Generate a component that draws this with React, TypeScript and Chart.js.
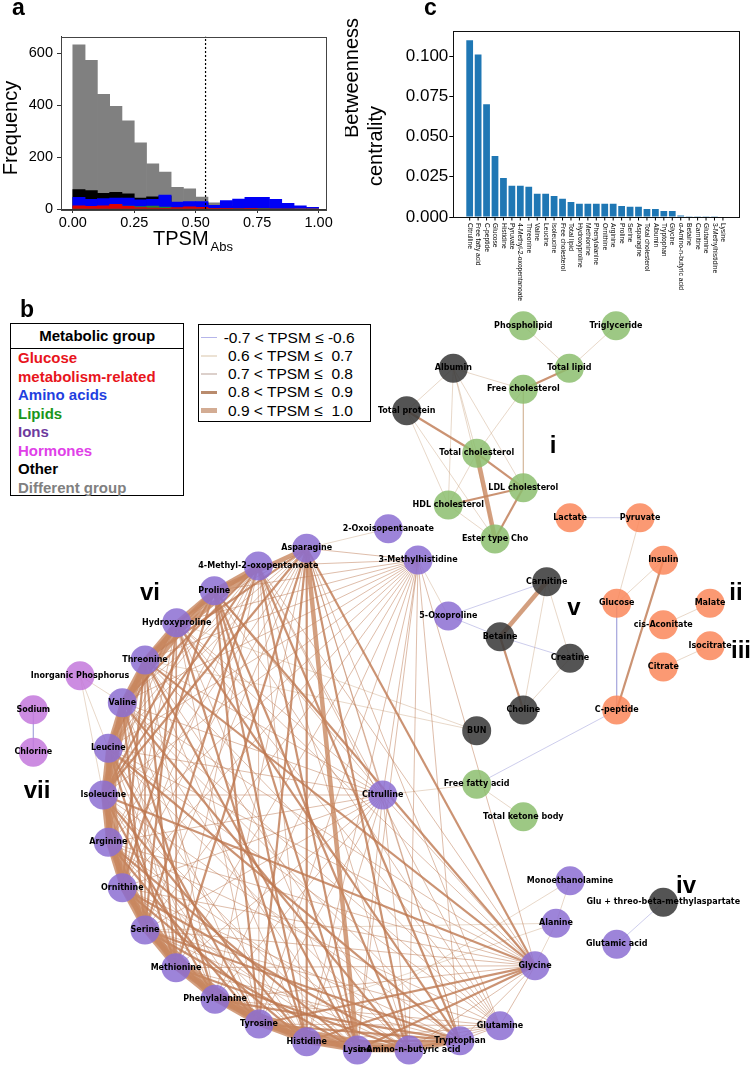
import React, { useEffect, useRef } from "react";
import { Chart, registerables } from "chart.js";

Chart.register(...registerables);

const SANS = "'Liberation Sans', Arial, Helvetica, sans-serif";
const DEJAVU = "'DejaVu Sans', sans-serif";

/* ---------------- panel a : histogram ---------------- */
const histBinCenters = [0.025, 0.075, 0.125, 0.175, 0.225, 0.275, 0.325, 0.375, 0.425, 0.475, 0.525, 0.575, 0.625, 0.675, 0.725, 0.775, 0.825, 0.875, 0.925, 0.975];
const histGray = [632, 572, 441, 395, 339, 255, 174, 142, 83, 78, 46, 24, 8, 6, 4, 2, 1, 0, 0, 0];
const histBlack = [75, 71, 60, 64, 58, 42, 47, 50, 22, 24, 24, 10, 10, 8, 6, 4, 2, 1, 0, 0];
const histBlue = [45, 37, 40, 42, 42, 35, 37, 54, 27, 29, 29, 14, 32, 38, 45, 45, 37, 22, 12, 6];
const histGreen = [4, 6, 9, 14, 11, 9, 11, 7, 4, 5, 3, 1, 2, 2, 1, 1, 0, 0, 0, 0];
const histRed = [12, 10, 12, 18, 10, 5, 4, 3, 5, 8, 6, 3, 3, 2, 1, 0, 0, 0, 0, 0];
const histThreshold = 0.54;
const histXTicks = [0, 0.25, 0.5, 0.75, 1.0];
const histXTickLabels = ["0.00", "0.25", "0.50", "0.75", "1.00"];
const histYTicks = [0, 200, 400, 600];
const histXMin = -0.048;
const histXMax = 1.03;
const histYMax = 664;

/* ---------------- panel c : betweenness ---------------- */
const bcLabels = ["Citrulline", "Free fatty acid", "C-peptide", "Glucose", "Histidine", "Pyruvate", "4-Methyl-2-oxopentanoate", "Threonine", "Valine", "Leucine", "Isoleucine", "Free cholesterol", "Total lipid", "Hydroxyproline", "Methionine", "Phenylalanine", "Ornithine", "Arginine", "Proline", "Serine", "Asparagine", "Total cholesterol", "Albumin", "Tryptophan", "Glycine", "α-Amino-n-butyric acid", "Betaine", "Carnitine", "Glutamine", "3-Methylhistidine", "Lysine"];
const bcValues = [0.110, 0.101, 0.0702, 0.0379, 0.0242, 0.0194, 0.0194, 0.0188, 0.0144, 0.0144, 0.0131, 0.0113, 0.0094, 0.0083, 0.0083, 0.0083, 0.0083, 0.0083, 0.0069, 0.0063, 0.0063, 0.0050, 0.0050, 0.0037, 0.0037, 0.0010, 0.0004, 0.0004, 0.0002, 0.0001, 0.0];
const bcYTicks = [0, 0.025, 0.05, 0.075, 0.1];
const bcYTickLabels = ["0.000", "0.025", "0.050", "0.075", "0.100"];
const bcXMin = -1.94;
const bcXMax = 31.94;
const bcYMax = 0.1155;

/* ---------------- panel b : network ---------------- */
const nodeKeys = [
  "Pho", "Tri", "TL", "Alb", "FC", "TP", "TC", "LDL", "HDL", "ETC",
  "Lac", "Pyr", "Ins", "Glc", "Mal", "cisA", "Iso", "Cit", "CP",
  "Carn", "Bet", "Cre", "Cho", "BUN", "GTM",
  "FFA", "TKB",
  "IP", "Na", "Cl",
  "Oxo5", "MH3", "Oxi2", "Asn", "MOP", "Pro", "Hyp", "Thr", "Val", "Leu",
  "Ile", "Arg", "Orn", "Ser", "Met", "Phe", "Tyr", "His", "Lys", "Aab",
  "Trp", "Gln", "Gly", "Ala", "Glu", "MEA", "Citr",
];
const nodeLabels = [
  "Phospholipid", "Triglyceride", "Total lipid", "Albumin", "Free cholesterol", "Total protein", "Total cholesterol", "LDL cholesterol", "HDL cholesterol", "Ester type Cho",
  "Lactate", "Pyruvate", "Insulin", "Glucose", "Malate", "cis-Aconitate", "Isocitrate", "Citrate", "C-peptide",
  "Carnitine", "Betaine", "Creatine", "Choline", "BUN", "Glu + threo-beta-methylaspartate",
  "Free fatty acid", "Total ketone body",
  "Inorganic Phosphorus", "Sodium", "Chlorine",
  "5-Oxoproline", "3-Methylhistidine", "2-Oxoisopentanoate", "Asparagine", "4-Methyl-2-oxopentanoate", "Proline", "Hydroxyproline", "Threonine", "Valine", "Leucine",
  "Isoleucine", "Arginine", "Ornithine", "Serine", "Methionine", "Phenylalanine", "Tyrosine", "Histidine", "Lysine", "α-Amino-n-butyric acid",
  "Tryptophan", "Glutamine", "Glycine", "Alanine", "Glutamic acid", "Monoethanolamine", "Citrulline",
];
const nodeX = [
  523.3, 616, 569.3, 453.3, 523.3, 406.7, 476.7, 523.3, 448.3, 495,
  570, 640, 663.3, 616.7, 710, 663.3, 710, 663.3, 616.7,
  546.7, 500, 570, 523.3, 476.7, 663.3,
  476.7, 523.3,
  80, 33.3, 33.3,
  448.3, 418, 388.3, 306.7, 258.3, 214.3, 176.7, 145, 122.3, 108.3,
  103.3, 108.3, 122.3, 145, 176, 215, 259, 306.7, 357.3, 409,
  460, 500, 535, 556, 616.7, 570, 382.7,
];
const nodeY = [
  325.7, 325.7, 368.3, 368.3, 389.3, 410.7, 453.3, 487.7, 505, 539,
  517.7, 517.7, 560.3, 603.3, 603.3, 624.7, 645.7, 667, 710,
  581.7, 636.7, 658.3, 710, 730.7, 902.3,
  784.3, 816.7,
  675.7, 709.7, 752.3,
  616, 560, 528.7, 548.3, 566, 590.7, 622.7, 660, 702.7, 748.3,
  795, 842.3, 887.7, 930, 967.7, 999.3, 1024, 1041.7, 1050, 1050,
  1040.7, 1025.7, 965.7, 923.3, 944.3, 880.7, 795,
];
const nodeGroup = [
  "L", "L", "L", "O", "L", "O", "L", "L", "L", "L",
  "G", "G", "G", "G", "G", "G", "G", "G", "G",
  "O", "O", "O", "O", "O", "O",
  "L", "L",
  "I", "I", "I",
  "A", "A", "A", "A", "A", "A", "A", "A", "A", "A",
  "A", "A", "A", "A", "A", "A", "A", "A", "A", "A",
  "A", "A", "A", "A", "A", "A", "A",
];

// edges by TPSM class
const edgesNeg = ["Lac-Pyr", "Glc-CP", "CP-FFA", "Oxo5-Carn", "Oxo5-Bet", "Na-Cl", "Glu-GTM", "Bet-Cre"];
const edges06 = [
  "Pho-TL", "Tri-TL", "Alb-FC", "Alb-TP", "Alb-TC", "Alb-HDL", "Alb-LDL", "Alb-ETC", "FC-TC", "FC-LDL",
  "TP-HDL", "TP-ETC", "HDL-TC", "HDL-ETC", "Carn-Cre", "Carn-Cho", "Cre-Cho", "Pyr-Glc", "Glc-Ins", "cisA-Mal",
  "Cit-Iso", "FFA-TKB", "FFA-Citr", "BUN-Hyp", "BUN-Thr", "IP-Val", "IP-Leu", "IP-Ile", "Oxi2-Asn", "MEA-His",
  "MEA-Ala", "Ala-Gly", "Ala-Tyr", "Oxo5-MH3", "Ala-Ser",
];
const edges07 = [
  "MH3-Pro", "MH3-Hyp", "MH3-Thr", "MH3-Val", "MH3-Leu", "MH3-Ile", "MH3-Arg", "MH3-Orn", "MH3-Ser", "MH3-Met",
  "MH3-Phe", "MH3-Tyr", "MH3-His", "MH3-Lys", "MH3-Aab", "MH3-Trp", "MH3-Gly", "MH3-Asn", "MH3-MOP",
  "Citr-Asn", "Citr-MOP", "Citr-Pro", "Citr-Hyp", "Citr-Thr", "Citr-Val", "Citr-Leu", "Citr-Ile", "Citr-Arg", "Citr-Orn",
  "Citr-Ser", "Citr-Met", "Citr-Phe", "Citr-Tyr", "Citr-His", "Citr-Lys", "Citr-Aab", "Citr-Trp", "Citr-Gly", "Citr-MH3",
  "Gln-Asn", "Gln-MOP", "Gln-Pro", "Gln-Hyp", "Gln-Thr", "Gln-Val", "Gln-Leu", "Gln-Arg", "Gln-Ser", "Gln-Phe",
  "Gln-Tyr", "Gln-His", "Gln-Lys", "Gln-Aab", "Gln-Trp", "Gln-Gly",
  "Gly-Hyp", "Gly-Val", "Gly-Leu", "Gly-Arg", "Gly-Orn", "Gly-Ser", "Gly-Met", "Gly-Phe", "Gly-MOP", "Gly-Aab", "Gly-Trp",
  "Asn-Leu", "Asn-Arg", "Asn-Orn", "Asn-Ser", "Asn-Phe", "Asn-Trp", "Asn-Val", "Asn-Hyp",
  "MOP-Leu", "MOP-Arg", "MOP-Orn", "MOP-Met", "MOP-Tyr", "MOP-His", "MOP-Aab",
  "Hyp-Ile", "Hyp-Orn", "Hyp-Met", "Hyp-Tyr", "Hyp-Lys",
  "Thr-Arg", "Thr-Ser", "Thr-Phe", "Thr-His", "Thr-Aab",
  "Val-Met", "Val-Tyr", "Val-Lys", "Val-Trp",
  "Leu-Phe", "Leu-His", "Leu-Aab", "Ile-Tyr", "Ile-Lys", "Ile-Trp",
  "Arg-His", "Arg-Aab", "Orn-Lys", "Orn-Trp", "Ser-Aab", "Met-Trp",
];
const edges08 = [
  "TL-FC", "TP-TC", "TC-LDL", "LDL-ETC", "HDL-LDL", "Ins-CP", "Bet-Cho",
  "Asn-Gly", "Asn-Tyr", "Asn-His", "Asn-Aab", "Asn-Thr", "Asn-Ile", "Asn-Met",
  "MOP-Val", "MOP-Ile", "MOP-Ser", "MOP-Lys", "MOP-Trp", "MOP-Hyp",
  "Pro-Ile", "Pro-Orn", "Pro-Tyr", "Pro-His", "Pro-Lys", "Pro-Aab", "Pro-Gly",
  "Hyp-Leu", "Hyp-Ser", "Hyp-His", "Hyp-Trp",
  "Thr-Orn", "Thr-Met", "Thr-Lys", "Thr-Gly",
  "Val-Ser", "Val-Phe", "Val-Aab",
  "Leu-Met", "Leu-Tyr", "Leu-Trp",
  "Ile-Phe", "Ile-His", "Ile-Gly",
  "Arg-Tyr", "Arg-Lys", "Orn-His", "Orn-Aab",
  "Ser-Lys", "Ser-Trp", "Met-Aab", "Phe-Trp",
  "Tyr-Trp", "Tyr-Gly", "His-Gly", "His-Trp", "Lys-Gly",
];
const edges09 = [
  "TC-ETC", "Carn-Bet",
  "Asn-Lys", "Asn-Pro", "MOP-Pro", "MOP-Thr", "Pro-Hyp", "Pro-Thr", "Hyp-Thr", "Hyp-Val",
  "Thr-Val", "Thr-Leu", "Val-Leu", "Val-Ile", "Leu-Ile", "Leu-Arg", "Ile-Arg", "Ile-Orn", "Arg-Orn", "Arg-Ser",
  "Orn-Ser", "Orn-Met", "Ser-Met", "Ser-Phe", "Met-Phe", "Met-Tyr", "Phe-Tyr", "Phe-His", "Tyr-His", "Tyr-Lys",
  "His-Lys", "His-Aab", "Lys-Aab", "Lys-Trp", "Aab-Trp", "Val-Arg", "Leu-Orn", "Ile-Ser", "Arg-Met", "Orn-Phe",
  "Ser-Tyr", "Met-His", "Phe-Lys", "Tyr-Aab", "Pro-Val", "Thr-Ile",
];

const clusterTags = ["i", "ii", "iii", "iv", "v", "vi", "vii"];
const clusterTagX = [553, 736, 741, 686, 574, 150, 37];
const clusterTagY = [453, 600, 658, 892.7, 615, 600, 798];

/* ---------------- styles ---------------- */
const groupColors: Record<string, string> = {
  L: "rgba(140,190,110,0.85)",
  O: "rgba(60,60,60,0.88)",
  G: "rgba(250,135,90,0.85)",
  A: "rgba(140,110,210,0.85)",
  I: "rgba(195,120,220,0.85)",
};
const edgeClassColors = ["rgba(150,150,215,0.6)", "rgba(200,160,125,0.6)", "rgba(185,115,75,0.6)", "rgba(190,120,80,0.8)", "rgba(200,135,95,0.8)"];
const edgeClassWidths = [0.8, 0.7, 0.8, 2.2, 4.5];

const framePlugin = (color: string) => ({
  id: "frame",
  afterDraw(chart: any) {
    const { ctx, chartArea: a } = chart;
    ctx.save();
    ctx.strokeStyle = color;
    ctx.lineWidth = 1;
    ctx.strokeRect(Math.round(a.left) + 0.5, Math.round(a.top) + 0.5, Math.round(a.right - a.left), Math.round(a.bottom - a.top));
    ctx.restore();
  },
});

function makeHistogram(canvas: HTMLCanvasElement) {
  const xy = (ys: number[]) => histBinCenters.map((x, i) => ({ x, y: ys[i] }));
  const bar = (ys: number[], color: string) => ({
    type: "bar" as const,
    data: xy(ys),
    backgroundColor: color,
    borderWidth: 0,
    grouped: false,
    barPercentage: 1,
    categoryPercentage: 1,
    order: 1,
  });
  const textPlugin = {
    id: "histText",
    afterDraw(chart: any) {
      const { ctx } = chart;
      ctx.save();
      ctx.fillStyle = "#000";
      ctx.font = `bold 23px ${SANS}`;
      ctx.textAlign = "left";
      ctx.textBaseline = "alphabetic";
      ctx.fillText("a", 12, 15);
      ctx.font = `20px ${SANS}`;
      ctx.fillText("TPSM", 153, 245);
      ctx.font = `13px ${SANS}`;
      ctx.fillText("Abs", 210.5, 250.5);
      ctx.translate(17, 128);
      ctx.rotate(-Math.PI / 2);
      ctx.textAlign = "center";
      ctx.font = `20px ${SANS}`;
      ctx.fillText("Frequency", 0, 0);
      ctx.restore();
    },
  };
  return new Chart(canvas, {
    type: "bar",
    data: {
      datasets: [
        {
          type: "line",
          data: [{ x: histThreshold, y: 0 }, { x: histThreshold, y: histYMax }],
          borderColor: "#000",
          borderWidth: 1.2,
          borderDash: [2, 2],
          pointRadius: 0,
          order: 0,
        } as any,
        bar(histRed, "#e00000"),
        bar(histGreen, "#2e7d32"),
        bar(histBlue, "#0000f5"),
        bar(histBlack, "#000000"),
        bar(histGray, "#808080"),
      ],
    },
    options: {
      responsive: false,
      animation: false,
      devicePixelRatio: 1,
      events: [],
      layout: { padding: { left: 0, right: 19, top: 36.5, bottom: 0 }, autoPadding: false },
      plugins: { legend: { display: false }, tooltip: { enabled: false } },
      scales: {
        x: {
          type: "linear",
          min: histXMin,
          max: histXMax,
          offset: false,
          afterBuildTicks: (s: any) => { s.ticks = histXTicks.map((v) => ({ value: v })); },
          afterFit: (s: any) => { s.height = 47; },
          grid: { drawOnChartArea: false, drawTicks: true, tickLength: 4, color: "#333", offset: false },
          border: { display: true, color: "#333" },
          ticks: { font: { size: 14.5, family: SANS }, color: "#000", padding: 1, maxRotation: 0, callback: (_v: any, i: number) => histXTickLabels[i] },
        },
        y: {
          type: "linear",
          min: 0,
          max: histYMax,
          afterBuildTicks: (s: any) => { s.ticks = histYTicks.map((v) => ({ value: v })); },
          afterFit: (s: any) => { s.width = 61; },
          grid: { drawOnChartArea: false, drawTicks: true, tickLength: 4, color: "#333" },
          border: { display: true, color: "#333" },
          ticks: { font: { size: 14.5, family: SANS }, color: "#000", padding: 4 },
        },
      },
    } as any,
    plugins: [framePlugin("#444"), textPlugin],
  });
}

function makeBetweenness(canvas: HTMLCanvasElement) {
  const labelPlugin = {
    id: "bcLabels",
    afterDraw(chart: any) {
      const { ctx, chartArea } = chart;
      const xs = chart.scales.x;
      ctx.save();
      ctx.fillStyle = "#000";
      ctx.strokeStyle = "#000";
      ctx.lineWidth = 1;
      bcLabels.forEach((lab, i) => {
        const px = xs.getPixelForValue(i);
        ctx.beginPath();
        ctx.moveTo(px, chartArea.bottom);
        ctx.lineTo(px, chartArea.bottom + 3.5);
        ctx.stroke();
        ctx.save();
        ctx.translate(px, chartArea.bottom + 6);
        ctx.rotate(Math.PI / 2);
        ctx.font = `6.7px ${SANS}`;
        ctx.textAlign = "left";
        ctx.textBaseline = "middle";
        ctx.fillText(lab, 0, 0);
        ctx.restore();
      });
      ctx.font = `bold 23px ${SANS}`;
      ctx.textAlign = "left";
      ctx.textBaseline = "alphabetic";
      ctx.fillText("c", 79, 15);
      ctx.font = `20px ${SANS}`;
      ctx.textAlign = "center";
      ctx.save();
      ctx.translate(13, 78);
      ctx.rotate(-Math.PI / 2);
      ctx.fillText("Betweenness", 0, 0);
      ctx.restore();
      ctx.save();
      ctx.translate(37, 146);
      ctx.rotate(-Math.PI / 2);
      ctx.fillText("centrality", 0, 0);
      ctx.restore();
      ctx.restore();
    },
  };
  return new Chart(canvas, {
    type: "bar",
    data: {
      datasets: [
        {
          data: bcValues.map((v, i) => ({ x: i, y: v })),
          backgroundColor: "#1f77b4",
          borderWidth: 0,
          barPercentage: 0.8,
          categoryPercentage: 1,
        },
      ],
    },
    options: {
      responsive: false,
      animation: false,
      devicePixelRatio: 1,
      events: [],
      layout: { padding: { left: 0, right: 10.7, top: 31.3, bottom: 0 }, autoPadding: false },
      plugins: { legend: { display: false }, tooltip: { enabled: false } },
      scales: {
        x: {
          type: "linear",
          min: bcXMin,
          max: bcXMax,
          offset: false,
          afterBuildTicks: (s: any) => { s.ticks = bcLabels.map((_l, i) => ({ value: i })); },
          afterFit: (s: any) => { s.height = 93; },
          grid: { display: false },
          border: { display: true, color: "#000" },
          ticks: { display: false },
        },
        y: {
          type: "linear",
          min: 0,
          max: bcYMax,
          afterBuildTicks: (s: any) => { s.ticks = bcYTicks.map((v) => ({ value: v })); },
          afterFit: (s: any) => { s.width = 108.3; },
          grid: { drawOnChartArea: false, drawTicks: true, tickLength: 4, color: "#000" },
          border: { display: true, color: "#000" },
          ticks: { font: { size: 17, family: SANS }, color: "#000", padding: 1, callback: (_v: any, i: number) => bcYTickLabels[i] },
        },
      },
    } as any,
    plugins: [framePlugin("#111"), labelPlugin],
  });
}

function makeNetwork(canvas: HTMLCanvasElement) {
  const idx: Record<string, number> = {};
  nodeKeys.forEach((k, i) => { idx[k] = i; });
  const edgeSets = [edges09, edges08, edges07, edges06, edgesNeg];
  const classOf = [4, 3, 2, 1, 0];
  const edgeDatasets: any[] = [];
  edgeSets.forEach((set, si) => {
    const c = classOf[si];
    set.forEach((e) => {
      const [a, b] = e.split("-");
      const ia = idx[a];
      const ib = idx[b];
      if (ia === undefined || ib === undefined) return;
      edgeDatasets.push({
        type: "line",
        data: [{ x: nodeX[ia], y: nodeY[ia] }, { x: nodeX[ib], y: nodeY[ib] }],
        borderColor: edgeClassColors[c],
        borderWidth: edgeClassWidths[c],
        pointRadius: 0,
        tension: 0,
        fill: false,
        order: 1,
        clip: false,
      });
    });
  });
  const nodeDataset = {
    type: "scatter",
    data: nodeKeys.map((_k, i) => ({ x: nodeX[i], y: nodeY[i] })),
    pointRadius: 14.5,
    pointBackgroundColor: nodeGroup.map((g) => groupColors[g]),
    pointBorderWidth: 0,
    borderWidth: 0,
    order: 0,
    clip: false,
  };
  const labelPlugin = {
    id: "netLabels",
    afterDatasetsDraw(chart: any) {
      const { ctx } = chart;
      const xs = chart.scales.x;
      const ys = chart.scales.y;
      ctx.save();
      ctx.fillStyle = "#000";
      ctx.font = `bold 8px ${DEJAVU}`;
      ctx.textAlign = "center";
      ctx.textBaseline = "middle";
      nodeLabels.forEach((lab, i) => {
        ctx.fillText(lab, xs.getPixelForValue(nodeX[i]), ys.getPixelForValue(nodeY[i]));
      });
      ctx.font = `bold 24px ${SANS}`;
      ctx.textBaseline = "alphabetic";
      clusterTags.forEach((t, i) => {
        ctx.fillText(t, xs.getPixelForValue(clusterTagX[i]), ys.getPixelForValue(clusterTagY[i]));
      });
      ctx.textAlign = "left";
      ctx.font = `bold 23px ${SANS}`;
      ctx.fillText("b", 20, ys.getPixelForValue(317.3));
      ctx.restore();
    },
  };
  return new Chart(canvas, {
    type: "scatter",
    data: { datasets: [nodeDataset as any, ...edgeDatasets] },
    options: {
      responsive: false,
      animation: false,
      devicePixelRatio: 1,
      events: [],
      layout: { padding: 0, autoPadding: false },
      plugins: { legend: { display: false }, tooltip: { enabled: false } },
      scales: {
        x: { type: "linear", min: 0, max: 750, display: false },
        y: { type: "linear", min: 250, max: 1066, reverse: true, display: false },
      },
    } as any,
    plugins: [labelPlugin],
  });
}

const groupLegendItems = ["Glucose", "metabolism-related", "Amino acids", "Lipids", "Ions", "Hormones", "Other", "Different group"];
const groupLegendColors = ["#e8141c", "#e8141c", "#1f3fe0", "#1a961a", "#6e3a9e", "#e040e8", "#000000", "#808080"];
const tpsmLegendItems = ["-0.7 < TPSM \u2264 -0.6", " 0.6 < TPSM \u2264  0.7", " 0.7 < TPSM \u2264  0.8", " 0.8 < TPSM \u2264  0.9", " 0.9 < TPSM \u2264  1.0"];
const tpsmSwatchColors = ["#b5b5ea", "#ece2d4", "#dcd0cb", "#b98b6d", "#d3ac93"];
const tpsmSwatchHeights = [1, 1.5, 1.5, 2.5, 4.5];

function GroupLegend() {
  return (
    <div style={{ position: "absolute", left: 10, top: 322.7, width: 174.3, height: 173, border: "1.5px solid #000", boxSizing: "border-box", background: "#fff", fontFamily: SANS }}>
      <div style={{ height: 24, lineHeight: "24px", borderBottom: "1.5px solid #000", textAlign: "center", fontWeight: "bold", fontSize: 15, color: "#000" }}>Metabolic group</div>
      <div style={{ paddingLeft: 7, paddingTop: 0.5 }}>
        {groupLegendItems.map((t, i) => (
          <div key={i} style={{ height: 18.5, lineHeight: "18.5px", fontWeight: "bold", fontSize: 15, color: groupLegendColors[i], whiteSpace: "nowrap" }}>{t}</div>
        ))}
      </div>
    </div>
  );
}

function TpsmLegend() {
  return (
    <div style={{ position: "absolute", left: 197.7, top: 324, width: 173, height: 98, border: "1.5px solid #000", boxSizing: "border-box", background: "#fff", fontFamily: SANS, paddingTop: 3.5 }}>
      {tpsmLegendItems.map((t, i) => (
        <div key={i} style={{ height: 18.25, display: "flex", alignItems: "center" }}>
          <div style={{ marginLeft: 2, width: 16.3, height: tpsmSwatchHeights[i], background: tpsmSwatchColors[i], flex: "none" }} />
          <div style={{ marginLeft: 6.7, fontSize: 15.5, whiteSpace: "pre", color: "#000", lineHeight: "18px" }}>{t}</div>
        </div>
      ))}
    </div>
  );
}

export default function App() {
  const aRef = useRef<HTMLCanvasElement>(null);
  const bRef = useRef<HTMLCanvasElement>(null);
  const cRef = useRef<HTMLCanvasElement>(null);
  useEffect(() => {
    const charts: Chart[] = [];
    if (bRef.current) charts.push(makeNetwork(bRef.current));
    if (aRef.current) charts.push(makeHistogram(aRef.current));
    if (cRef.current) charts.push(makeBetweenness(cRef.current));
    return () => charts.forEach((c) => c.destroy());
  }, []);
  return (
    <div style={{ position: "absolute", left: 0, top: 0, width: 750, height: 1066, background: "#fff", overflow: "hidden", fontFamily: SANS }}>
      <canvas ref={bRef} width={750} height={816} style={{ position: "absolute", left: 0, top: 250 }} />
      <canvas ref={aRef} width={345} height={256} style={{ position: "absolute", left: 0, top: 0 }} />
      <canvas ref={cRef} width={405} height={310} style={{ position: "absolute", left: 345, top: 0 }} />
      <GroupLegend />
      <TpsmLegend />
    </div>
  );
}
